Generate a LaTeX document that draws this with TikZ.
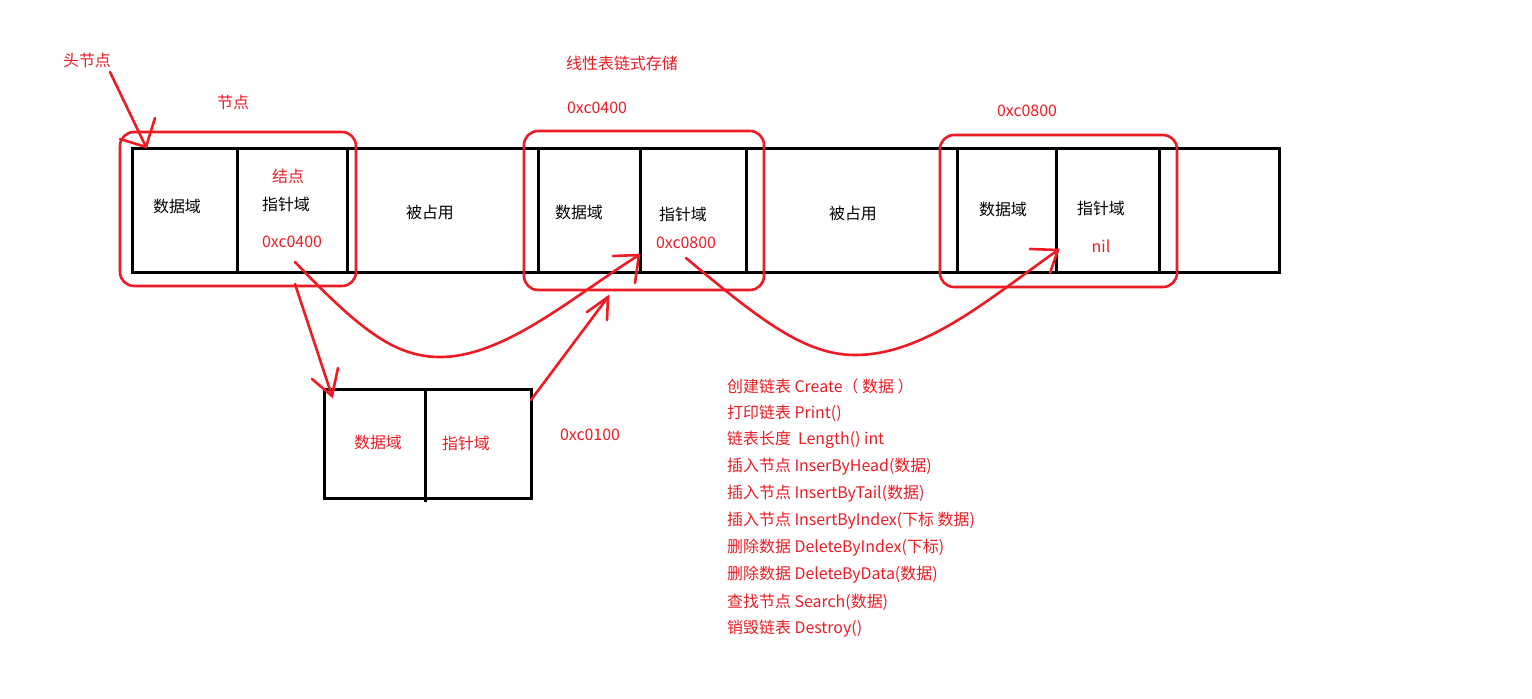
\documentclass[tikz,border=0pt]{standalone}
\usepackage{fontspec}
\setmainfont{Noto Sans CJK SC}
\definecolor{pred}{RGB}{237,28,36}
\tikzset{
  blk/.style={line width=3bp, draw=black},
  rbox/.style={line width=2.6bp, draw=pred, rounded corners=14bp},
  rline/.style={line width=2.6bp, draw=pred, line cap=round},
  btxt/.style={font=\fontsize{16}{19}\selectfont, text=black, inner sep=0pt},
  rtxt/.style={font=\fontsize{16}{19}\selectfont, text=pred, inner sep=0pt},
  ltxt/.style={font=\fontsize{16}{19}\selectfont, text=pred, inner sep=0pt, anchor=west},
}
\begin{document}
\begin{tikzpicture}[x=1bp,y=-1bp]
\useasboundingbox (0,0) rectangle (1532,699);
\fill[white] (0,0) rectangle (1532,699);
% main strip
\draw[blk] (132,148) rectangle (1279,272);
\foreach \xx in {237,347,538,640,746,957,1056,1159}
  \draw[blk] (\xx,148) -- (\xx,272);
% lower node
\draw[blk] (324,389) rectangle (531,498);
\draw[blk] (425,389) -- (425,502);
% red rounded boxes
\draw[rbox] (120,132) rectangle (356,286);
\draw[rbox] (524,131) rectangle (764,290);
\draw[rbox] (940,135) rectangle (1177,287);
% texts
\node[rtxt] (head) at (87,60) {头节点};
\node[rtxt] (jd) at (233,102) {节点};
\node[rtxt] (title) at (622,63) {线性表链式存储};
\node[rtxt] (a1) at (597,108) {0xc0400};
\node[rtxt] (a2) at (1027,111) {0xc0800};
\node[btxt] (d1) at (177,206) {数据域};
\node[rtxt] (jie) at (288,176) {结点};
\node[btxt] (p1) at (286,204) {指针域};
\node[rtxt] (v1) at (292,242) {0xc0400};
\node[btxt] (o1) at (430,212) {被占用};
\node[btxt] (d2) at (579,212) {数据域};
\node[btxt] (p2) at (683,214) {指针域};
\node[rtxt] (v2) at (686,243) {0xc0800};
\node[btxt] (o2) at (853,213) {被占用};
\node[btxt] (d3) at (1003,209) {数据域};
\node[btxt] (p3) at (1101,208) {指针域};
\node[rtxt] (v3) at (1101,246) {nil};
\node[rtxt] (d4) at (378,442) {数据域};
\node[rtxt] (p4) at (466,443) {指针域};
\node[rtxt] (a3) at (590,435) {0xc0100};
% function list
\node[ltxt] (f1) at (727,386) {创建链表 Create（ 数据 ）};
\node[ltxt] (f2) at (727,413) {打印链表 Print()};
\node[ltxt] (f3) at (727,440) {链表长度\ \ Length() int};
\node[ltxt] (f4) at (727,467) {插入节点 InserByHead(数据)};
\node[ltxt] (f5) at (727,494) {插入节点 InsertByTail(数据)};
\node[ltxt] (f6) at (727,521) {插入节点 InsertByIndex(下标 数据)};
\node[ltxt] (f7) at (727,548) {删除数据 DeleteByIndex(下标)};
\node[ltxt] (f8) at (727,575) {删除数据 DeleteByData(数据)};
\node[ltxt] (f9) at (727,602) {查找节点 Search(数据)};
\node[ltxt] (f10) at (727,629) {销毁链表 Destroy()};
% arrow coordinates
\coordinate (hs) at (110,72);
\coordinate (ht) at (146,147);
\coordinate (c1s) at (295,262);
\coordinate (c1t) at (639,255);
\coordinate (ds) at (295,284);
\coordinate (dt) at (332,396);
\coordinate (us) at (531,400);
\coordinate (ut) at (608,297);
\coordinate (c2s) at (686,258);
\coordinate (c2t) at (1058,250);
% head arrow
\draw[rline] (hs) -- (ht);
\draw[rline] (120,139) -- (ht) -- (155,118);
% curve 1
\draw[rline] (c1s) .. controls (360,330) and (395,357) .. (440,357) .. controls (505,357) and (575,295) .. (c1t);
\draw[rline] (613,256) -- (c1t) -- (635,283);
% down arrow
\draw[rline] (ds) -- (dt);
\draw[rline] (312,379) -- (dt) -- (338,368);
% up arrow
\draw[rline] (us) -- (ut);
\draw[rline] (587,312) -- (ut) -- (607,320);
% curve 2
\draw[rline] (c2s) .. controls (760,320) and (805,355) .. (855,355) .. controls (925,355) and (990,298) .. (c2t);
\draw[rline] (1030,249) -- (c2t) -- (1050,273);
\end{tikzpicture}
\end{document}
